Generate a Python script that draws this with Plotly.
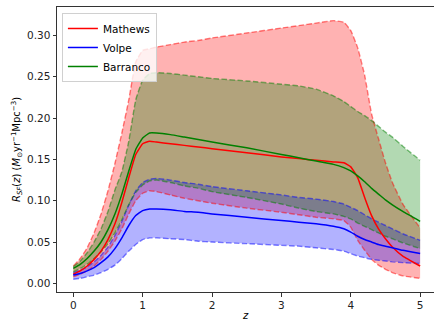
import plotly.graph_objects as go

# redshift grid shared by all curves
z = [0, 0.1, 0.2, 0.3, 0.4, 0.5, 0.6, 0.7, 0.8, 0.9, 1.0, 1.1, 1.2, 1.4, 1.6, 1.8, 2.0, 2.5,
     3.0, 3.25, 3.5, 3.75, 3.9, 4.0, 4.1, 4.2, 4.3, 4.4, 4.5, 4.6, 4.75, 5.0]

mathews_mid = [.011, .015, .021, .029, .039, .053, .072, .098, .128, .156, .169, .172, .171, .169, .167, .165,
               .163, .158, .153, .151, .149, .147, .146, .141, .128, .104, .082, .066, .054, .044, .033, .021]
mathews_hi = [.021, .030, .043, .061, .084, .112, .145, .182, .222, .268, .282, .284, .286, .289, .292, .294,
              .297, .303, .309, .312, .315, .318, .316, .306, .285, .252, .205, .175, .146, .122, .096, .067]
mathews_lo = [.008, .011, .015, .021, .029, .039, .051, .066, .084, .100, .109, .112, .111, .107, .103, .100,
              .097, .091, .086, .083, .080, .078, .076, .068, .052, .040, .029, .022, .017, .013, .009, .006]

volpe_mid = [.010, .012, .015, .019, .025, .032, .042, .055, .070, .082, .088, .090, .090, .089, .087, .086,
             .084, .080, .076, .074, .072, .069, .066, .062, .057, .053, .050, .047, .045, .043, .040, .036]
volpe_hi = [.013, .016, .020, .026, .034, .044, .058, .075, .095, .112, .122, .126, .127, .125, .122, .120,
            .117, .112, .107, .104, .102, .099, .096, .092, .088, .083, .078, .074, .070, .066, .060, .052]
volpe_lo = [.005, .006, .008, .010, .013, .017, .022, .030, .039, .047, .053, .055, .055, .054, .053, .051,
            .050, .048, .046, .045, .043, .041, .039, .036, .033, .031, .029, .028, .027, .026, .025, .024]

barranco_mid = [.018, .023, .030, .039, .050, .065, .084, .108, .136, .162, .176, .182, .182, .180, .177, .174,
                .171, .164, .156, .152, .148, .144, .140, .136, .130, .123, .115, .108, .101, .095, .087, .075]
barranco_hi = [.020, .027, .037, .050, .066, .087, .113, .135, .172, .222, .246, .254, .255, .254, .252, .250,
               .248, .245, .241, .239, .235, .227, .220, .214, .208, .203, .197, .190, .183, .177, .166, .149]
barranco_lo = [.014, .018, .023, .030, .038, .048, .061, .077, .095, .110, .119, .124, .125, .122, .118, .115,
               .111, .104, .096, .091, .087, .084, .081, .078, .073, .069, .065, .061, .057, .054, .049, .042]

names = ["Mathews", "Volpe", "Barranco"]
x_ticks = [0, 1, 2, 3, 4, 5]
y_ticks = [0.00, 0.05, 0.10, 0.15, 0.20, 0.25, 0.30]

models = [
    ("Mathews", mathews_lo, mathews_mid, mathews_hi, (255, 0, 0)),
    ("Volpe", volpe_lo, volpe_mid, volpe_hi, (0, 0, 255)),
    ("Barranco", barranco_lo, barranco_mid, barranco_hi, (0, 128, 0)),
]

def rgba(c, a):
    return f"rgba({c[0]},{c[1]},{c[2]},{a})"

fig = go.Figure()
SM = 0.35
# fills (below all lines)
for name, lo, mid, hi, c in models:
    fig.add_trace(go.Scatter(x=z, y=lo, mode="lines", line=dict(width=0, shape="spline", smoothing=SM),
                             showlegend=False, hoverinfo="skip"))
    fig.add_trace(go.Scatter(x=z, y=hi, mode="lines", line=dict(width=0, shape="spline", smoothing=SM),
                             fill="tonexty", fillcolor=rgba(c, 0.3), showlegend=False, hoverinfo="skip"))
# dashed bounds
for name, lo, mid, hi, c in models:
    for arr in (lo, hi):
        fig.add_trace(go.Scatter(x=z, y=arr, mode="lines",
                                 line=dict(color=rgba(c, 0.5), width=1.4, dash="5.5px,2.4px",
                                           shape="spline", smoothing=SM),
                                 showlegend=False, hoverinfo="skip"))
# central curves
for name, lo, mid, hi, c in models:
    fig.add_trace(go.Scatter(x=z, y=mid, mode="lines", name=name,
                             line=dict(color=rgba(c, 1), width=1.5, shape="spline", smoothing=SM)))

font = dict(family="DejaVu Sans", size=10, color="black")
tick_font = dict(family="DejaVu Sans", size=10.5, color="#222")
fig.update_layout(
    width=434, height=321,
    margin=dict(l=57, r=0, t=7, b=29, autoexpand=False),
    paper_bgcolor="white", plot_bgcolor="white",
    font=font,
    showlegend=True,
    legend=dict(x=0.013, y=0.979, xanchor="left", yanchor="top",
                bgcolor="rgba(255,255,255,0.8)", bordercolor="#d0d0d0", borderwidth=1,
                font=dict(family="DejaVu Sans", size=10.5), itemwidth=30,
                tracegroupgap=0, traceorder="normal"),
)
fig.update_xaxes(range=[-0.235, 5.2], tickvals=x_ticks, ticktext=[str(v) for v in x_ticks],
                 showgrid=False, zeroline=False, showline=True, linecolor="#333", linewidth=1,
                 mirror=True, ticks="outside", ticklen=3.5, tickcolor="#333", tickfont=tick_font,
                 automargin=False,
                 title=dict(text="<i>z</i>", standoff=2, font=font))
fig.update_yaxes(range=[-0.0105, 0.3345], tickvals=y_ticks, ticktext=[f"{v:.2f}" for v in y_ticks],
                 showgrid=False, zeroline=False, showline=True, linecolor="#333", linewidth=1,
                 mirror=False, ticks="outside", ticklen=3.5, tickcolor="#333", tickfont=tick_font,
                 automargin=False,
                 title=dict(text="<i>R</i><sub><i>SF</i></sub>(<i>z</i>) (<i>M</i><sub>⊙</sub>yr<sup>−1</sup>Mpc<sup>−3</sup>)",
                            standoff=4, font=font))

fig.write_html("out.html", config={"displayModeBar": False, "staticPlot": True},
               post_script="document.body.style.margin='0';document.body.style.overflow='hidden';")
